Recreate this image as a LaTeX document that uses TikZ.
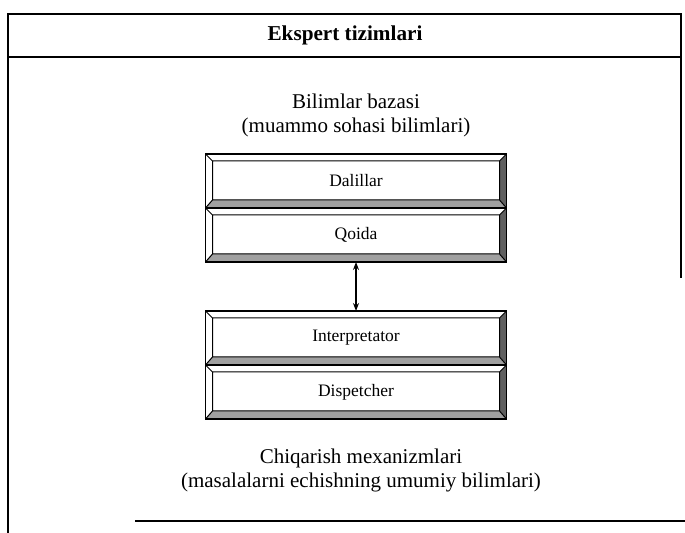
\documentclass[tikz,border=0pt]{standalone}
\usepackage{fontspec}
\setmainfont{Liberation Serif}
\usetikzlibrary{arrows.meta,positioning,calc}
\definecolor{bevdark}{RGB}{95,95,95}
\definecolor{bevlight}{RGB}{160,160,160}

% bevels of one panel, drawn from its anchors
\newcommand{\panelbevel}[1]{%
  \coordinate (bnw) at ($(#1.north west)+(7,7)$);
  \coordinate (bne) at ($(#1.north east)+(-7,7)$);
  \coordinate (bse) at ($(#1.south east)+(-7,-8)$);
  \coordinate (bsw) at ($(#1.south west)+(7,-8)$);
  \fill[bevdark] (#1.north east) -- (bne) -- (bse) -- (#1.south east) -- cycle;
  \fill[bevlight] (#1.south west) -- (bsw) -- (bse) -- (#1.south east) -- cycle;
  \draw[line width=0.5pt] (#1.north west) -- (bnw) (#1.north east) -- (bne)
    (#1.south east) -- (bse) (#1.south west) -- (bsw) (bnw) rectangle (bse);
  \draw[line width=0.7pt] (#1.north west) rectangle (#1.south east);
}

\begin{document}
\begin{tikzpicture}[
      x=0.5pt,y=-0.5pt,
      frame/.style={line width=1.2pt},
      panel/.style={draw,line width=0.7pt,fill=white,minimum width=150.5pt,minimum height=27pt,
        inner sep=0pt,outer sep=0pt,font=\fontsize{8.75}{10}\selectfont,yshift=0pt},
      lbl/.style={align=center,font=\fontsize{10.5}{12}\selectfont},
      arr/.style={{Stealth[length=4pt,width=3pt]}-{Stealth[length=4pt,width=3pt]},line width=0.6pt}
    ]
    \useasboundingbox (0,0) rectangle (685,533);

    % outer frame and header
    \draw[frame] (8,533) -- (8,14) -- (681,14) -- (681,278);
    \draw[frame] (8,57) -- (681,57);
    \draw[frame] (135,521) -- (685,521);
    \node[font=\fontsize{10.6}{12}\selectfont\bfseries] (title) at (345,35) {Ekspert tizimlari};

    % panels
    \node[panel] (dal) at (356,181) {Dalillar};
    \node[panel,below=0pt of dal] (qoi) {Qoida};
    \node[panel,below=24.5pt of qoi] (int) {Interpretator};
    \node[panel,below=0pt of int] (dis) {Dispetcher};
    \foreach \p in {dal,qoi,int,dis}
      \panelbevel{\p};

    \node[lbl] (kb) at (356,115) {Bilimlar bazasi\\(muammo sohasi bilimlari)};
    \node[lbl] (mx) at (361,470) {Chiqarish mexanizmlari\\(masalalarni echishning umumiy bilimlari)};

    \draw[arr] (qoi.south) -- (int.north);
  \end{tikzpicture}
\end{document}
